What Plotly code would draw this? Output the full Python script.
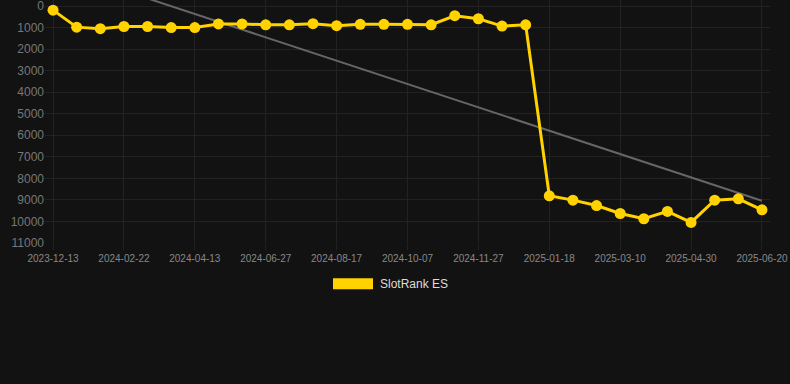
import plotly.graph_objects as go

dates = [
    "2023-12-13", "2024-01-05", "2024-01-29", "2024-02-22", "2024-03-09", "2024-03-27",
    "2024-04-13", "2024-05-08", "2024-06-02", "2024-06-27", "2024-07-14", "2024-07-31",
    "2024-08-17", "2024-09-03", "2024-09-20", "2024-10-07", "2024-10-24", "2024-11-10",
    "2024-11-27", "2024-12-14", "2024-12-31", "2025-01-18", "2025-02-04", "2025-02-21",
    "2025-03-10", "2025-03-27", "2025-04-13", "2025-04-30", "2025-05-17", "2025-06-03",
    "2025-06-20",
]
ranks = [
    190, 980, 1050, 950, 950, 1000,
    1000, 830, 830, 870, 870, 820,
    910, 850, 850, 850, 870, 450,
    590, 930, 870, 8810, 9010, 9260,
    9630, 9875, 9535, 10045, 9010, 8950,
    9460,
]
trend_dates = [dates[0], dates[-1]]
trend_values = [-1800, 9040]
tick_labels = dates[::3]
y_ticks = list(range(0, 11001, 1000))
series_name = "SlotRank ES"

GOLD = "#FFD200"
BG = "#121212"
GRID = "#222222"

fig = go.Figure()
fig.add_trace(go.Scatter(
    x=trend_dates, y=trend_values, mode="lines",
    line=dict(color="#666666", width=2), showlegend=False, hoverinfo="skip",
))
fig.add_trace(go.Scatter(
    x=dates, y=ranks, mode="lines+markers", name=series_name,
    line=dict(color=GOLD, width=3),
    marker=dict(color=GOLD, size=11),
    showlegend=False,
))

L, R, T, B = 45, 20, 0, 141
fig.update_layout(
    width=790, height=384,
    margin=dict(l=L, r=R, t=T, b=B, autoexpand=False),
    paper_bgcolor=BG, plot_bgcolor=BG,
    font=dict(family="Liberation Sans, Arial, sans-serif"),
    xaxis=dict(
        type="category", categoryorder="array", categoryarray=dates,
        range=[-0.34, 30.34],
        tickmode="array", tickvals=tick_labels, ticktext=tick_labels,
        tickfont=dict(size=10, color="#888888"),
        showgrid=True, gridcolor=GRID, gridwidth=1,
        ticks="outside", ticklen=6, tickcolor=GRID,
        showline=False, zeroline=False, automargin=False,
        ticklabeloverflow="allow",
    ),
    yaxis=dict(
        range=[11000, -280],
        tickmode="array", tickvals=y_ticks, ticktext=[str(v) for v in y_ticks],
        tickfont=dict(size=12, color="#777777"),
        showgrid=True, gridcolor=GRID, gridwidth=1,
        zeroline=False, showline=False, automargin=False,
        ticklabeloverflow="allow",
    ),
)

plot_w = 790 - L - R
plot_h = 384 - T - B
def px(xp):
    return (xp - L) / plot_w
def py(yp):
    return (T + plot_h - yp) / plot_h

fig.add_shape(type="rect", xref="paper", yref="paper",
              x0=px(333), x1=px(373), y0=py(289.3), y1=py(278.3),
              fillcolor=GOLD, line=dict(width=0))
fig.add_annotation(xref="paper", yref="paper", x=px(378), y=py(284),
                   text=series_name, showarrow=False, xanchor="left", yanchor="middle",
                   font=dict(size=12, color="#DDDDDD"))

div = fig.to_html(full_html=False, include_plotlyjs=True,
                  config={"displayModeBar": False, "staticPlot": True})
page = ("<!DOCTYPE html><html><head><meta charset='utf-8'>"
        "<style>html,body{margin:0;padding:0;background:#121212;overflow:hidden;}</style>"
        "</head><body>" + div + "</body></html>")
with open("out.html", "w", encoding="utf-8") as f:
    f.write(page)
